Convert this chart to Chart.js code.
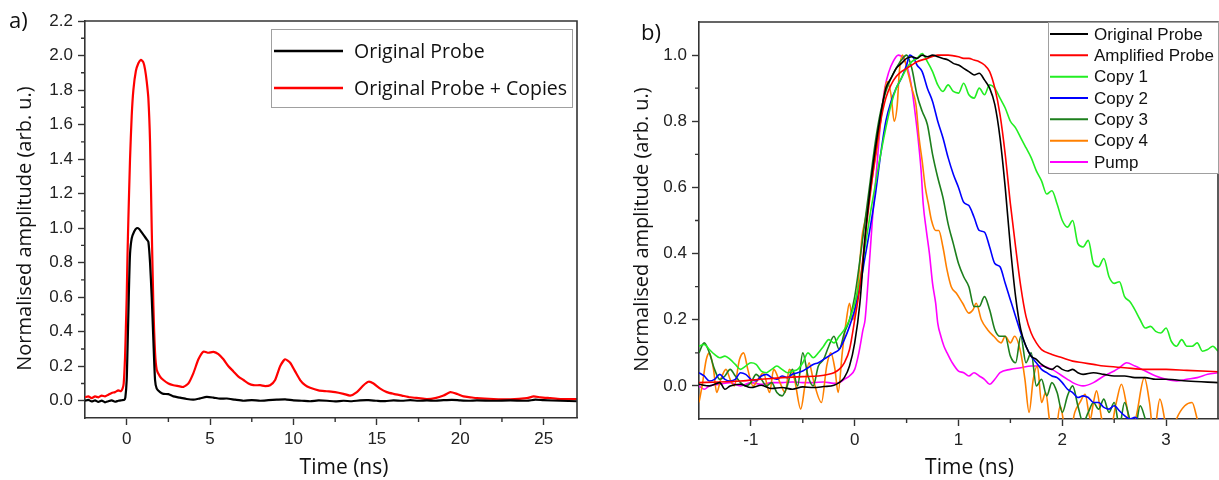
<!DOCTYPE html>
<html>
<head>
<meta charset="utf-8">
<script src="https://cdn.jsdelivr.net/npm/chart.js@4.4.1/dist/chart.umd.min.js"></script>
<style>
  html, body { margin: 0; padding: 0; background: #fff; }
  #wrap { position: relative; width: 1219px; height: 480px; overflow: hidden; }
  #ca { position: absolute; left: 0; top: 0; }
  #cb { position: absolute; left: 610px; top: 0; }
</style>
</head>
<body>
<div id="wrap">
  <canvas id="ca" width="610" height="480"></canvas>
  <canvas id="cb" width="609" height="480"></canvas>
</div>
<script>
// ---- panel a) : time (ns), amplitude ----
const probeA = [
  [-2.5,0.0],[-2.3,0.005],[-2.1,-0.004],[-1.9,0.002],[-1.7,-0.007],[-1.5,0.001],[-1.3,-0.009],[-1.1,-0.003],
  [-0.9,0.002],[-0.7,-0.006],[-0.5,0.0],[-0.3,0.003],[-0.15,0.005],[-0.08,0.02],[0.0,0.12],[0.05,0.3],
  [0.1,0.5],[0.15,0.7],[0.2,0.85],[0.3,0.94],[0.45,0.98],[0.6,1.0],[0.75,0.995],[0.9,0.975],[1.05,0.955],
  [1.2,0.935],[1.3,0.92],[1.4,0.8],[1.5,0.6],[1.6,0.35],[1.7,0.12],[1.8,0.07],[2.0,0.05],[2.2,0.04],
  [2.5,0.038],[2.8,0.025],[3.2,0.018],[3.6,0.01],[4.0,0.006],[4.4,0.014],[4.8,0.022],[5.2,0.018],
  [5.6,0.012],[6.0,0.013],[6.5,0.006],[7.0,0.0],[7.5,0.004],[8.0,0.0],[8.5,0.003],[9.0,0.006],[9.5,0.008],
  [10.0,0.002],[10.5,0.0],[11.0,-0.003],[11.5,0.002],[12.0,0.0],[12.5,-0.004],[13.0,0.0],[13.5,-0.003],
  [14.0,0.002],[14.5,0.003],[15.0,0.0],[15.5,-0.002],[16.0,0.002],[16.5,0.0],[17.0,0.003],[17.5,0.0],
  [18.0,0.002],[18.5,0.0],[19.0,0.003],[19.5,0.005],[20.0,0.002],[20.5,0.0],[21.0,0.002],[22.0,0.0],
  [23.0,0.002],[24.0,0.0],[24.5,0.006],[25.0,0.003],[26.0,0.0],[27.0,-0.003]
];
const copiesA = [
  [-2.5,0.02],[-2.3,0.025],[-2.1,0.015],[-1.9,0.025],[-1.7,0.02],[-1.5,0.03],[-1.3,0.025],[-1.1,0.035],
  [-0.9,0.045],[-0.7,0.05],[-0.5,0.06],[-0.35,0.055],[-0.25,0.07],[-0.18,0.1],[-0.1,0.25],[-0.05,0.42],
  [0.0,0.6],[0.05,0.85],[0.1,1.05],[0.2,1.4],[0.3,1.65],[0.4,1.8],[0.55,1.91],[0.7,1.955],[0.85,1.975],
  [1.0,1.96],[1.1,1.92],[1.2,1.85],[1.3,1.75],[1.4,1.5],[1.5,1.0],[1.6,0.55],[1.7,0.28],[1.8,0.18],
  [2.0,0.14],[2.2,0.12],[2.5,0.1],[2.8,0.09],[3.1,0.085],[3.4,0.08],[3.7,0.1],[4.0,0.16],[4.3,0.24],
  [4.6,0.285],[4.9,0.278],[5.2,0.283],[5.5,0.27],[5.8,0.24],[6.1,0.2],[6.4,0.17],[6.7,0.14],[7.0,0.12],
  [7.3,0.1],[7.6,0.09],[8.0,0.09],[8.3,0.085],[8.6,0.09],[8.9,0.12],[9.2,0.2],[9.5,0.24],[9.8,0.22],
  [10.1,0.17],[10.4,0.12],[10.7,0.09],[11.0,0.075],[11.5,0.06],[12.0,0.055],[12.5,0.05],[13.0,0.04],
  [13.4,0.03],[13.8,0.05],[14.2,0.09],[14.5,0.11],[14.8,0.1],[15.2,0.07],[15.6,0.05],[16.0,0.04],
  [16.5,0.03],[17.0,0.02],[17.5,0.015],[18.0,0.01],[18.5,0.015],[19.0,0.03],[19.4,0.05],[19.8,0.04],
  [20.2,0.025],[20.6,0.02],[21.0,0.015],[22.0,0.01],[23.0,0.008],[24.0,0.015],[24.4,0.025],[24.8,0.02],
  [25.4,0.015],[26.0,0.01],[27.0,0.01]
];
const legendA = ['Original Probe', 'Original Probe + Copies'];
const xTicksA = [0, 5, 10, 15, 20, 25];
const yTicksA = [0, 0.2, 0.4, 0.6, 0.8, 1.0, 1.2, 1.4, 1.6, 1.8, 2.0, 2.2];
const xMinorA = [2.5, 7.5, 12.5, 17.5, 22.5];
const yMinorA = [0.1, 0.3, 0.5, 0.7, 0.9, 1.1, 1.3, 1.5, 1.7, 1.9, 2.1];

// ---- panel b) ----
const origB = [
  [-1.5,0.005],[-1.4,0.0],[-1.3,0.01],[-1.25,-0.01],[-1.2,0.0],[-1.1,0.005],[-1.0,-0.005],[-0.9,0.002],
  [-0.8,-0.008],[-0.7,-0.005],[-0.6,-0.01],[-0.5,-0.003],[-0.4,-0.005],[-0.3,-0.002],[-0.2,0.002],
  [-0.15,0.01],[-0.1,0.025],[-0.05,0.06],[0.0,0.13],[0.05,0.25],[0.1,0.45],[0.15,0.6],[0.2,0.72],
  [0.25,0.82],[0.3,0.9],[0.35,0.93],[0.4,0.96],[0.45,0.975],[0.5,0.99],[0.55,0.995],[0.6,0.99],
  [0.65,1.0],[0.7,0.995],[0.75,1.0],[0.8,0.995],[0.85,0.99],[0.9,0.985],[0.95,0.975],[1.0,0.97],
  [1.05,0.96],[1.1,0.95],[1.15,0.94],[1.2,0.945],[1.25,0.925],[1.3,0.9],[1.35,0.85],[1.4,0.75],
  [1.45,0.6],[1.5,0.42],[1.55,0.27],[1.6,0.17],[1.65,0.12],[1.7,0.09],[1.75,0.08],[1.8,0.065],
  [1.85,0.055],[1.9,0.05],[1.95,0.06],[2.0,0.05],[2.05,0.045],[2.1,0.05],[2.15,0.04],[2.2,0.035],
  [2.3,0.04],[2.4,0.035],[2.5,0.03],[2.6,0.03],[2.7,0.025],[2.8,0.025],[2.9,0.02],[3.0,0.02],
  [3.2,0.015],[3.5,0.01]
];
const ampB = [
  [-1.5,0.01],[-1.3,0.012],[-1.1,0.015],[-0.9,0.02],[-0.7,0.025],[-0.5,0.028],[-0.35,0.03],[-0.25,0.035],
  [-0.2,0.04],[-0.15,0.05],[-0.1,0.07],[-0.05,0.11],[0.0,0.2],[0.05,0.3],[0.1,0.45],[0.15,0.58],
  [0.2,0.7],[0.25,0.8],[0.3,0.87],[0.35,0.91],[0.4,0.935],[0.45,0.95],[0.5,0.96],[0.55,0.97],[0.6,0.98],
  [0.7,0.99],[0.8,1.0],[0.9,1.0],[1.0,0.995],[1.05,0.99],[1.1,0.99],[1.15,0.985],[1.2,0.98],[1.25,0.97],
  [1.3,0.95],[1.35,0.9],[1.4,0.82],[1.45,0.7],[1.5,0.55],[1.55,0.42],[1.6,0.3],[1.65,0.21],[1.7,0.16],
  [1.75,0.13],[1.8,0.11],[1.9,0.095],[2.0,0.085],[2.1,0.075],[2.2,0.07],[2.3,0.065],[2.4,0.06],
  [2.6,0.055],[2.8,0.05],[3.0,0.05],[3.2,0.047],[3.5,0.043]
];
const copy1B = [
  [-1.5,0.12],[-1.45,0.125],[-1.4,0.11],[-1.35,0.095],[-1.3,0.085],[-1.25,0.09],[-1.2,0.08],[-1.15,0.065],
  [-1.1,0.05],[-1.05,0.06],[-1.0,0.07],[-0.95,0.065],[-0.9,0.045],[-0.85,0.04],[-0.8,0.05],[-0.75,0.06],
  [-0.7,0.05],[-0.65,0.04],[-0.6,0.045],[-0.55,0.05],[-0.5,0.07],[-0.45,0.1],[-0.4,0.085],[-0.35,0.1],
  [-0.3,0.12],[-0.25,0.14],[-0.2,0.13],[-0.15,0.15],[-0.1,0.17],[-0.05,0.2],[0.0,0.25],[0.05,0.32],
  [0.1,0.42],[0.15,0.52],[0.2,0.61],[0.25,0.7],[0.3,0.78],[0.35,0.85],[0.4,0.9],[0.45,0.93],[0.5,0.96],
  [0.55,0.98],[0.6,0.99],[0.65,1.005],[0.7,0.98],[0.75,0.95],[0.8,0.91],[0.85,0.89],[0.9,0.91],
  [0.95,0.89],[1.0,0.885],[1.05,0.915],[1.1,0.88],[1.15,0.87],[1.2,0.9],[1.25,0.88],[1.3,0.91],
  [1.35,0.9],[1.4,0.87],[1.45,0.84],[1.5,0.8],[1.55,0.78],[1.6,0.75],[1.65,0.72],[1.7,0.69],[1.75,0.65],
  [1.8,0.62],[1.85,0.58],[1.9,0.59],[1.95,0.55],[2.0,0.5],[2.05,0.48],[2.1,0.5],[2.15,0.43],[2.2,0.42],
  [2.25,0.44],[2.3,0.37],[2.35,0.36],[2.4,0.385],[2.45,0.33],[2.5,0.31],[2.55,0.315],[2.6,0.27],
  [2.65,0.255],[2.7,0.23],[2.75,0.2],[2.8,0.175],[2.85,0.18],[2.9,0.165],[2.95,0.16],[3.0,0.175],
  [3.05,0.135],[3.1,0.12],[3.15,0.14],[3.2,0.12],[3.25,0.12],[3.3,0.13],[3.35,0.105],[3.4,0.11],
  [3.45,0.12],[3.5,0.105]
];
const copy2B = [
  [-1.5,0.04],[-1.45,0.03],[-1.4,0.015],[-1.35,0.02],[-1.3,0.035],[-1.25,0.02],[-1.2,0.015],[-1.15,0.02],
  [-1.1,0.04],[-1.05,0.035],[-1.0,0.02],[-0.95,0.015],[-0.9,0.03],[-0.85,0.035],[-0.8,0.025],[-0.75,0.02],
  [-0.7,0.03],[-0.65,0.025],[-0.6,0.035],[-0.55,0.04],[-0.5,0.045],[-0.45,0.055],[-0.4,0.065],
  [-0.35,0.07],[-0.3,0.08],[-0.25,0.09],[-0.2,0.1],[-0.15,0.11],[-0.1,0.14],[-0.05,0.18],[0.0,0.23],
  [0.05,0.3],[0.1,0.39],[0.15,0.48],[0.2,0.58],[0.25,0.7],[0.3,0.8],[0.35,0.86],[0.4,0.9],[0.45,0.93],
  [0.5,0.97],[0.53,1.0],[0.57,0.99],[0.6,0.97],[0.65,0.95],[0.7,0.9],[0.75,0.86],[0.8,0.8],[0.85,0.75],
  [0.9,0.69],[0.95,0.64],[1.0,0.6],[1.05,0.555],[1.1,0.545],[1.15,0.51],[1.2,0.47],[1.25,0.465],
  [1.3,0.42],[1.35,0.37],[1.4,0.36],[1.45,0.31],[1.5,0.26],[1.55,0.21],[1.6,0.16],[1.65,0.12],
  [1.7,0.09],[1.75,0.07],[1.8,0.05],[1.85,0.04],[1.9,0.03],[1.95,0.025],[2.0,0.01],[2.05,-0.01],
  [2.1,-0.02],[2.15,-0.035],[2.2,-0.03],[2.25,-0.035],[2.3,-0.05],[2.35,-0.05],[2.4,-0.065],
  [2.45,-0.07],[2.5,-0.06],[2.55,-0.075],[2.6,-0.09],[2.65,-0.1],[2.7,-0.095],[2.75,-0.11],[2.8,-0.12],
  [2.9,-0.105],[2.95,-0.1],[3.0,-0.115],[3.1,-0.12],[3.3,-0.11],[3.5,-0.12]
];
const copy3B = [
  [-1.5,0.1],[-1.45,0.13],[-1.4,0.1],[-1.35,0.05],[-1.3,0.02],[-1.25,0.03],[-1.2,0.05],[-1.15,0.03],
  [-1.1,0.01],[-1.05,0.0],[-1.0,0.01],[-0.95,0.035],[-0.9,0.02],[-0.85,0.0],[-0.8,0.01],[-0.75,-0.02],
  [-0.7,-0.03],[-0.65,0.0],[-0.6,0.05],[-0.55,0.0],[-0.5,0.1],[-0.45,0.03],[-0.4,0.0],[-0.35,0.06],
  [-0.3,0.08],[-0.25,0.12],[-0.2,0.15],[-0.15,0.11],[-0.1,0.16],[-0.05,0.2],[0.0,0.27],[0.05,0.38],
  [0.1,0.5],[0.15,0.62],[0.2,0.74],[0.25,0.83],[0.3,0.89],[0.35,0.93],[0.4,0.96],[0.45,0.985],[0.5,1.0],
  [0.55,0.96],[0.6,0.88],[0.65,0.83],[0.7,0.79],[0.75,0.7],[0.8,0.63],[0.85,0.57],[0.9,0.49],[0.95,0.43],
  [1.0,0.37],[1.05,0.33],[1.1,0.3],[1.15,0.24],[1.2,0.24],[1.25,0.27],[1.3,0.23],[1.35,0.17],[1.4,0.15],
  [1.45,0.15],[1.5,0.09],[1.55,0.07],[1.6,0.15],[1.65,0.07],[1.7,0.1],[1.75,0.0],[1.8,0.02],[1.85,-0.03],
  [1.9,0.01],[1.95,-0.02],[2.0,-0.08],[2.05,-0.03],[2.1,0.0],[2.15,-0.06],[2.2,-0.11],[2.25,-0.08],
  [2.3,-0.05],[2.35,-0.07],[2.4,-0.04],[2.45,-0.08],[2.5,-0.05],[2.55,-0.12],[2.6,-0.05],[2.65,-0.1],
  [2.7,-0.13],[2.75,-0.06],[2.8,-0.1],[2.85,-0.14],[3.0,-0.15],[3.5,-0.15]
];
const copy4B = [
  [-1.5,-0.05],[-1.47,0.0],[-1.43,0.08],[-1.4,0.1],[-1.36,0.05],[-1.33,-0.02],[-1.29,0.02],[-1.24,0.05],
  [-1.2,0.02],[-1.16,0.0],[-1.11,0.08],[-1.07,0.1],[-1.03,0.05],[-0.98,0.0],[-0.93,0.02],[-0.88,0.04],
  [-0.82,-0.02],[-0.78,0.05],[-0.72,0.01],[-0.67,-0.02],[-0.63,0.05],[-0.58,0.02],[-0.52,-0.07],
  [-0.48,0.0],[-0.44,0.07],[-0.4,0.02],[-0.32,-0.05],[-0.27,0.06],[-0.23,0.1],[-0.19,0.05],[-0.16,-0.02],
  [-0.12,0.1],[-0.08,0.2],[-0.05,0.25],[-0.02,0.2],[0.03,0.3],[0.07,0.45],[0.1,0.5],[0.13,0.55],
  [0.18,0.65],[0.23,0.75],[0.27,0.85],[0.31,0.92],[0.35,0.88],[0.38,0.8],[0.41,0.85],[0.43,0.95],
  [0.46,1.0],[0.51,0.95],[0.55,0.9],[0.59,0.85],[0.62,0.75],[0.65,0.68],[0.68,0.6],[0.71,0.55],
  [0.74,0.5],[0.78,0.47],[0.81,0.47],[0.85,0.42],[0.89,0.35],[0.93,0.3],[0.98,0.28],[1.04,0.25],
  [1.1,0.22],[1.14,0.23],[1.17,0.25],[1.22,0.2],[1.28,0.17],[1.34,0.15],[1.41,0.13],[1.45,0.15],
  [1.5,0.13],[1.54,0.15],[1.6,0.1],[1.64,0.02],[1.68,-0.08],[1.72,0.02],[1.76,0.06],[1.8,-0.05],
  [1.84,-0.02],[1.88,-0.11],[1.93,-0.15],[1.98,-0.06],[2.02,-0.12],[2.07,-0.15],[2.12,-0.08],
  [2.17,-0.05],[2.22,-0.025],[2.27,-0.1],[2.3,-0.05],[2.33,-0.015],[2.38,-0.1],[2.45,-0.15],
  [2.52,-0.05],[2.57,0.005],[2.62,-0.06],[2.67,-0.15],[2.72,-0.08],[2.79,0.025],[2.84,-0.05],
  [2.88,-0.15],[2.94,-0.04],[3.0,-0.12],[3.05,-0.15],[3.1,-0.1],[3.18,-0.06],[3.25,-0.05],[3.3,-0.1],
  [3.35,-0.15],[3.45,-0.13],[3.5,-0.1]
];
const pumpB = [
  [-1.5,0.0],[-1.45,-0.01],[-1.4,0.0],[-1.3,0.005],[-1.2,0.01],[-1.1,0.0],[-1.0,0.01],[-0.9,0.005],
  [-0.8,0.01],[-0.7,0.01],[-0.6,0.012],[-0.5,0.01],[-0.4,0.01],[-0.3,0.012],[-0.2,0.008],[-0.15,0.01],
  [-0.1,0.02],[-0.05,0.03],[0.0,0.05],[0.04,0.1],[0.08,0.17],[0.1,0.2],[0.13,0.32],[0.17,0.5],
  [0.21,0.65],[0.25,0.8],[0.29,0.9],[0.33,0.95],[0.37,0.98],[0.42,1.0],[0.47,0.99],[0.51,0.96],
  [0.55,0.9],[0.58,0.83],[0.61,0.75],[0.64,0.65],[0.66,0.55],[0.69,0.47],[0.72,0.4],[0.75,0.31],
  [0.78,0.25],[0.8,0.19],[0.83,0.15],[0.86,0.12],[0.89,0.1],[0.94,0.07],[1.0,0.045],[1.05,0.04],
  [1.1,0.03],[1.15,0.04],[1.2,0.03],[1.25,0.02],[1.3,0.005],[1.35,0.02],[1.4,0.04],[1.5,0.05],
  [1.6,0.055],[1.7,0.06],[1.8,0.06],[1.9,0.05],[2.0,0.03],[2.05,0.02],[2.1,0.01],[2.2,0.0],[2.3,0.01],
  [2.4,0.03],[2.5,0.045],[2.55,0.055],[2.62,0.07],[2.7,0.06],[2.8,0.045],[2.9,0.03],[3.0,0.02],
  [3.1,0.015],[3.2,0.02],[3.3,0.025],[3.4,0.035],[3.5,0.04]
];
const legendB = ['Original Probe', 'Amplified Probe', 'Copy 1', 'Copy 2', 'Copy 3', 'Copy 4', 'Pump'];
const coloursB = ['#000000', '#ff0000', '#22ee22', '#0000ff', '#1d7f1d', '#ff8000', '#ff00ff'];
const xTicksB = [-1, 0, 1, 2, 3];
const yTicksB = [0, 0.2, 0.4, 0.6, 0.8, 1.0];
const xMinorB = [-0.5, 0.5, 1.5, 2.5];
const yMinorB = [0.1, 0.3, 0.5, 0.7, 0.9];

Chart.defaults.font.family = '"Liberation Sans", Arial, sans-serif';
Chart.defaults.color = '#222';

const toXY = arr => arr.map(p => ({ x: p[0], y: p[1] }));
const AXIS = '#333';

// frame on top/right, minor ticks, legend, titles and panel letter
const framePlugin = {
  id: 'frame',
  afterDraw(chart, args, o) {
    const { ctx, chartArea: a, scales: { x, y } } = chart;
    ctx.save();
    ctx.strokeStyle = AXIS;
    ctx.lineWidth = 1.6;
    ctx.beginPath();
    ctx.moveTo(a.left, a.top);
    ctx.lineTo(a.right, a.top);
    ctx.lineTo(a.right, a.bottom);
    ctx.stroke();

    ctx.lineWidth = 1.4;
    ctx.beginPath();
    o.minorX.forEach(v => {
      const px = x.getPixelForValue(v);
      ctx.moveTo(px, a.bottom); ctx.lineTo(px, a.bottom + 4);
    });
    o.minorY.forEach(v => {
      const py = y.getPixelForValue(v);
      ctx.moveTo(a.left, py); ctx.lineTo(a.left - 4, py);
    });
    ctx.stroke();

    // legend
    const L = o.legend;
    ctx.fillStyle = '#fff';
    ctx.fillRect(L.x0, L.y0, L.x1 - L.x0, L.y1 - L.y0);
    ctx.strokeStyle = '#a0a0a0';
    ctx.lineWidth = 1;
    ctx.strokeRect(L.x0 + 0.5, L.y0 + 0.5, L.x1 - L.x0 - 1, L.y1 - L.y0 - 1);
    ctx.font = L.font;
    ctx.textAlign = 'left';
    ctx.textBaseline = 'middle';
    chart.data.datasets.forEach((ds, i) => {
      const yy = L.row0 + i * L.rowH;
      ctx.strokeStyle = ds.borderColor;
      ctx.lineWidth = L.lw;
      ctx.beginPath();
      ctx.moveTo(L.lx0, yy); ctx.lineTo(L.lx1, yy);
      ctx.stroke();
      ctx.fillStyle = '#111';
      ctx.fillText(ds.label, L.tx, yy + 1);
    });

    // axis titles
    ctx.fillStyle = '#111';
    ctx.font = '21px "Open Sans", sans-serif';
    ctx.textAlign = 'center';
    ctx.fillText('Time (ns)', (a.left + a.right) / 2 + o.xTitleShift, o.xTitleY);
    ctx.font = '20px "Open Sans", sans-serif';
    ctx.save();
    ctx.translate(o.yTitleX, (a.top + a.bottom) / 2 + 9);
    ctx.rotate(-Math.PI / 2);
    ctx.fillText('Normalised amplitude (arb. u.)', 0, 0);
    ctx.restore();

    // panel letter
    ctx.font = '22px "Open Sans", sans-serif';
    ctx.textAlign = 'left';
    ctx.fillText(o.letter, o.letterX, o.letterY);
    ctx.restore();
  }
};

function axes(xMin, xMax, xTicks, xFmt, yMin, yMax, yTicks, yWidth, xHeight) {
  const common = {
    type: 'linear',
    border: { display: true, color: AXIS, width: 1.6 },
    grid: { display: true, drawOnChartArea: false, drawTicks: true, tickLength: 7, tickColor: AXIS, tickWidth: 1.4 },
    title: { display: false }
  };
  return {
    x: Object.assign({}, common, {
      min: xMin, max: xMax,
      afterBuildTicks: s => { s.ticks = xTicks.map(v => ({ value: v })); },
      afterFit: s => { s.height = xHeight; },
      ticks: { autoSkip: false, maxRotation: 0, padding: 4, font: { size: 17 }, color: '#222', callback: xFmt }
    }),
    y: Object.assign({}, common, {
      min: yMin, max: yMax,
      afterBuildTicks: s => { s.ticks = yTicks.map(v => ({ value: v })); },
      afterFit: s => { s.width = yWidth; },
      ticks: { autoSkip: false, padding: 5, font: { size: 17 }, color: '#222', callback: v => Number(v).toFixed(1) }
    })
  };
}

new Chart(document.getElementById('ca'), {
  type: 'line',
  data: {
    datasets: [
      { label: legendA[0], data: toXY(probeA), borderColor: '#000000', borderWidth: 2.2, pointRadius: 0, tension: 0.2 },
      { label: legendA[1], data: toXY(copiesA), borderColor: '#ff0000', borderWidth: 2.2, pointRadius: 0, tension: 0.2 }
    ]
  },
  options: {
    responsive: false,
    animation: false,
    devicePixelRatio: 1,
    layout: { padding: { left: 0, top: 21, right: 33, bottom: 0 } },
    scales: axes(-2.5, 27, xTicksA, v => String(v), -0.1, 2.2, yTicksA, 85, 62),
    plugins: {
      legend: { display: false },
      tooltip: { enabled: false },
      frame: {
        minorX: xMinorA, minorY: yMinorA,
        legend: { x0: 271, y0: 29, x1: 573, y1: 108, row0: 51, rowH: 37, lx0: 274, lx1: 343, tx: 354, lw: 2.5,
                  font: '19.5px "Open Sans", sans-serif' },
        xTitleShift: 13, xTitleY: 468, yTitleX: 25,
        letter: 'a)', letterX: 9, letterY: 22
      }
    }
  },
  plugins: [framePlugin]
});

new Chart(document.getElementById('cb'), {
  type: 'line',
  data: {
    datasets: [origB, ampB, copy1B, copy2B, copy3B, copy4B, pumpB].map((s, i) => ({
      label: legendB[i], data: toXY(s), borderColor: coloursB[i], borderWidth: 1.6,
      pointRadius: 0, cubicInterpolationMode: 'monotone'
    }))
  },
  options: {
    responsive: false,
    animation: false,
    devicePixelRatio: 1,
    layout: { padding: { left: 0, top: 22, right: 1, bottom: 0 } },
    scales: axes(-1.5, 3.5, xTicksB, v => String(v), -0.1, 1.1, yTicksB, 89, 61),
    plugins: {
      legend: { display: false },
      tooltip: { enabled: false },
      frame: {
        minorX: xMinorB, minorY: yMinorB,
        legend: { x0: 438, y0: 22, x1: 609, y1: 174, row0: 34, rowH: 21.33, lx0: 440, lx1: 478, tx: 484, lw: 2,
                  font: '17px "Liberation Sans", Arial, sans-serif' },
        xTitleShift: 11, xTitleY: 468, yTitleX: 32,
        letter: 'b)', letterX: 31, letterY: 34
      }
    }
  },
  plugins: [framePlugin]
});
</script>
</body>
</html>
